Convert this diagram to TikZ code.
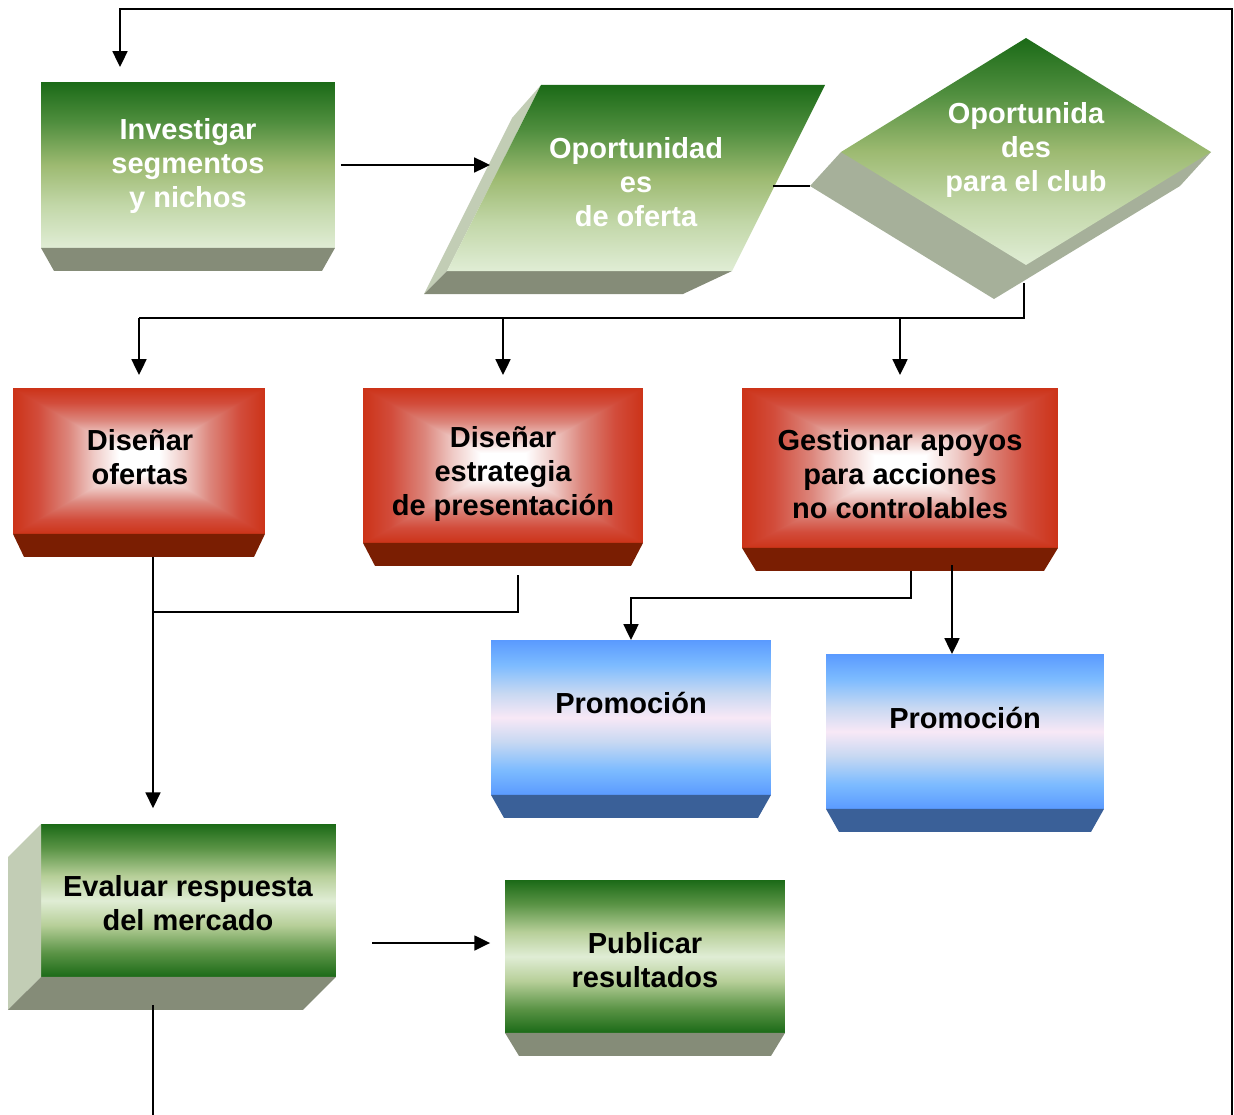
\documentclass[tikz,border=0pt]{standalone}
\usepackage{fontspec}
\setmainfont{Liberation Sans}
\usetikzlibrary{arrows.meta}

\definecolor{gdark}{HTML}{1B6A17}
\definecolor{gdeep}{HTML}{4F8E3E}
\definecolor{gmid}{HTML}{9DBA71}
\definecolor{gpale}{HTML}{C2D7A8}
\definecolor{glight}{HTML}{E0EDD5}
\definecolor{gbandA}{HTML}{5B9446}
\definecolor{gbandB}{HTML}{B7CF99}
\definecolor{gbev}{HTML}{858C78}
\definecolor{gside}{HTML}{C2CDB5}
\definecolor{gdiam}{HTML}{A6B09A}
\definecolor{rface}{HTML}{CC3318}
\definecolor{rmidA}{HTML}{D24C3B}
\definecolor{rmidB}{HTML}{DC867C}
\definecolor{rmidC}{HTML}{EFCAC6}
\definecolor{rbev}{HTML}{7A1E02}
\definecolor{bface}{HTML}{5A9AFF}
\definecolor{bmidA}{HTML}{7CBBFF}
\definecolor{bmidB}{HTML}{C6D8F2}
\definecolor{bpink}{HTML}{F8E8F6}
\definecolor{bbev}{HTML}{3A6098}

\pgfdeclareverticalshading{greenfade}{100bp}{color(0bp)=(glight); color(25bp)=(glight); color(38bp)=(gpale); color(50bp)=(gmid); color(63bp)=(gdeep); color(75bp)=(gdark); color(100bp)=(gdark)}
\pgfdeclareverticalshading{greenband}{100bp}{color(0bp)=(gdark); color(25bp)=(gdark); color(33bp)=(gbandA); color(42bp)=(gbandB); color(50bp)=(glight); color(58bp)=(gbandB); color(67bp)=(gbandA); color(75bp)=(gdark); color(100bp)=(gdark)}
\pgfdeclareverticalshading{bluefade}{100bp}{color(0bp)=(bface); color(25bp)=(bface); color(33bp)=(bmidA); color(42bp)=(bmidB); color(50bp)=(bpink); color(58bp)=(bmidB); color(67bp)=(bmidA); color(75bp)=(bface); color(100bp)=(bface)}
\pgfdeclareverticalshading{redv}{100bp}{color(0bp)=(rface); color(25bp)=(rface); color(30bp)=(rmidA); color(36bp)=(rmidB); color(41bp)=(rmidC); color(46bp)=(white); color(54bp)=(white); color(59bp)=(rmidC); color(64bp)=(rmidB); color(70bp)=(rmidA); color(75bp)=(rface); color(100bp)=(rface)}
\pgfdeclarehorizontalshading{redh}{100bp}{color(0bp)=(rface); color(25bp)=(rface); color(30bp)=(rmidA); color(36bp)=(rmidB); color(41bp)=(rmidC); color(46bp)=(white); color(54bp)=(white); color(59bp)=(rmidC); color(64bp)=(rmidB); color(70bp)=(rmidA); color(75bp)=(rface); color(100bp)=(rface)}

\begin{document}
\begin{tikzpicture}[
        x=0.02cm, y=-0.02cm,
        font=\bfseries\fontsize{16.5}{19.3}\selectfont,
        >={Triangle[length=9pt,width=8.5pt]},
        face/.style={inner sep=0pt, outer sep=0pt},
        lbl/.style={align=center, inner sep=0pt},
        arrow/.style={->, line width=1.1pt},
        link/.style={line width=1.1pt},
    ]
    \useasboundingbox (0,0) rectangle (1234,1115);

    % fila superior
    \node[face, shade, shading=greenfade, minimum width=5.88cm, minimum height=3.32cm] (inv) at (188,165) {};

    \fill[gside] (541,85) -- (512,118) -- (424,294) -- (447,271) -- cycle;
    \fill[gbev] (447,271) -- (732,271) -- (683,294) -- (424,294) -- cycle;
    \shade[shading=greenfade] (541,85) -- (825,85) -- (732,271) -- (447,271) -- cycle;

    \fill[gdiam] (841,152) -- (810,186) -- (994,299) -- (1180,186) -- (1211,152) -- cycle;
    \shade[shading=greenfade] (1026,38) -- (1211,152) -- (1026,265) -- (841,152) -- cycle;

    % cajas rojas
    \node[face, shade, shading=redh, minimum width=5.04cm, minimum height=2.92cm] (r1) at (139,461) {};
    \node[face, shade, shading=redh, minimum width=5.6cm, minimum height=3.1cm] (r2) at (503,465.5) {};
    \node[face, shade, shading=redh, minimum width=6.32cm, minimum height=3.2cm] (r3) at (900,468) {};
    \foreach \b in {r1,r2,r3}
        \shade[shading=redv] (\b.north west) -- (\b.north east) -- (\b.center) -- cycle
            (\b.south west) -- (\b.south east) -- (\b.center) -- cycle;

    % cajas azules
    \node[face, shade, shading=bluefade, minimum width=5.6cm, minimum height=3.1cm] (p1) at (631,717.5) {};
    \node[face, shade, shading=bluefade, minimum width=5.56cm, minimum height=3.1cm] (p2) at (965,731.5) {};

    % fila inferior
    \node[face, shade, shading=greenband, minimum width=5.9cm, minimum height=3.06cm] (eva) at (188.5,900.5) {};
    \fill[gside] (eva.north west) -- ++(-33,33) -- ++(0,153) -- (eva.south west) -- cycle;
    \fill[gbev] (eva.south west) -- (eva.south east) -- ++(-33,33) -- ++(-295,0) -- cycle;
    \node[face, shade, shading=greenband, minimum width=5.6cm, minimum height=3.06cm] (pub) at (645,956.5) {};

    % biseles
    \foreach \b/\i/\c in {inv/13/gbev, r1/11/rbev, r2/12/rbev, r3/14/rbev, p1/13/bbev, p2/13/bbev, pub/14/gbev}
        \fill[\c] (\b.south west) -- (\b.south east) -- ++(-\i,23) -- ([shift={(\i,23)}]\b.south west) -- cycle;

    % textos
    \node[lbl, text=white] (inv-t) at (188,166) {Investigar\\segmentos\\y nichos};
    \node[lbl, text=white] (opof) at (636,182) {Oportunidad\\es\\de oferta};
    \node[lbl, text=white] (opcl) at (1026,150) {Oportunida\\des\\para el club};
    \node[lbl] (r1-t) at (140,457) {Diseñar\\ofertas};
    \node[lbl] (r2-t) at (503,474) {Diseñar\\estrategia\\de presentación};
    \node[lbl] (r3-t) at (900,474) {Gestionar apoyos\\para acciones\\no controlables};
    \node[lbl] (p1-t) at (631,703) {Promoción};
    \node[lbl] (p2-t) at (965,718) {Promoción};
    \node[lbl] (eva-t) at (188,903) {Evaluar respuesta\\del mercado};
    \node[lbl] (pub-t) at (645,960) {Publicar\\resultados};

    % puntos de union
    \coordinate (back) at (1232,1116);
    \coordinate (opof-w) at (490,165);
    \coordinate (opof-e) at (773,186);
    \coordinate (opcl-w) at (810,186);
    \coordinate (opcl-s) at (1024,283);
    \coordinate (bus) at (0,318);
    \coordinate (spine) at (153,557);
    \coordinate (j1) at (153,612);
    \coordinate (k1) at (911,598);
    \coordinate (k2) at (952,565);
    \coordinate (m1) at (372,943);

    % conexiones
    \draw[arrow] (back) |- (120,9) -- (120,67);
    \draw[arrow] ([xshift=3.4pt]inv.east) -- (opof-w);
    \draw[link] (opof-e) -- (opcl-w);
    \draw[link] (opcl-s) |- (r1.north |- bus);
    \foreach \b in {r1,r2,r3}
        \draw[arrow] (\b.north |- bus) -- ([yshift=7.4pt]\b.north);
    \draw[arrow, shorten >=9pt] (spine) -- (spine |- eva.north);
    \draw[link] (518,575) |- (j1);
    \draw[arrow] (911,571) -- (k1) -| (p1.north);
    \draw[arrow] (k2) -- (k2 |- p2.north);
    \draw[arrow, shorten >=8.5pt] (m1) -- (m1 -| pub.west);
    \draw[link] (153,1005) -- (153,1116);

\end{tikzpicture}
\end{document}
